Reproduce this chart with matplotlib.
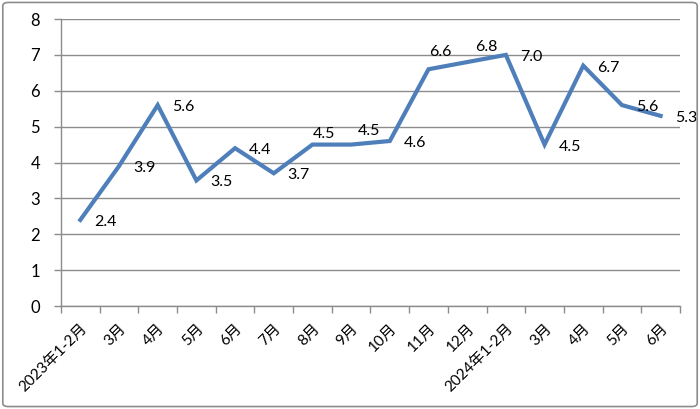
import matplotlib
matplotlib.use("Agg")
import matplotlib.pyplot as plt
from matplotlib.patches import FancyBboxPatch
from matplotlib.ticker import FixedLocator

plt.rcParams["font.family"] = ["Lato", "Noto Sans CJK SC", "DejaVu Sans"]

months = ["2023年1-2月", "3月", "4月", "5月", "6月", "7月", "8月", "9月", "10月",
          "11月", "12月", "2024年1-2月", "3月", "4月", "5月", "6月"]
values = [2.4, 3.9, 5.6, 3.5, 4.4, 3.7, 4.5, 4.5, 4.6, 6.6, 6.8, 7.0, 4.5, 6.7, 5.6, 5.3]

# label offsets in pixels (dx to left edge, dy up); default sits right of the point
label_offsets = {6: (0, 11), 7: (7, 14), 9: (1, 17), 10: (8, 15)}
default_offset = (14, -2)

fig = plt.figure(figsize=(7.0, 4.09), dpi=100)
ax = fig.add_axes([0.0871, 0.2518, 0.8843, 0.7017])

x = list(range(len(months)))
ax.plot(x, values, color="#4F7FBA", linewidth=3.0, solid_joinstyle="miter")

for i, v in enumerate(values):
    dx, dy = label_offsets.get(i, default_offset)
    ax.annotate(f"{v:.1f}", (i, v), xytext=(dx, dy), textcoords="offset pixels",
                ha="left", va="center", fontsize=11.5, color="black")

ax.set_xlim(-0.5, len(months) - 0.5)
ax.set_ylim(0, 8)
ax.set_yticks(range(0, 9))
ax.yaxis.grid(True, color="#8C8C8C", linewidth=1.0)
ax.set_axisbelow(True)

ax.set_xticks(x)
ax.set_xticklabels(months, rotation=45, ha="right", rotation_mode="anchor", fontsize=11)
ax.xaxis.set_minor_locator(FixedLocator([i - 0.5 for i in range(len(months) + 1)]))
ax.tick_params(axis="x", which="major", length=0, pad=11)
ax.tick_params(axis="x", which="minor", length=5, color="#8C8C8C", width=1.0)
ax.tick_params(axis="y", length=5, color="#8C8C8C", width=1.0, pad=10, labelsize=12)

for side in ["top", "right"]:
    ax.spines[side].set_visible(False)
for side in ["left", "bottom"]:
    ax.spines[side].set_color("#8C8C8C")
    ax.spines[side].set_linewidth(1.0)

border = FancyBboxPatch((0.004, 0.006), 0.992, 0.988, boxstyle="round,pad=0,rounding_size=0.008",
                        transform=fig.transFigure, fill=False, edgecolor="#8C8C8C", linewidth=1.2)
fig.patches.append(border)

fig.savefig("out.png", dpi=100)
